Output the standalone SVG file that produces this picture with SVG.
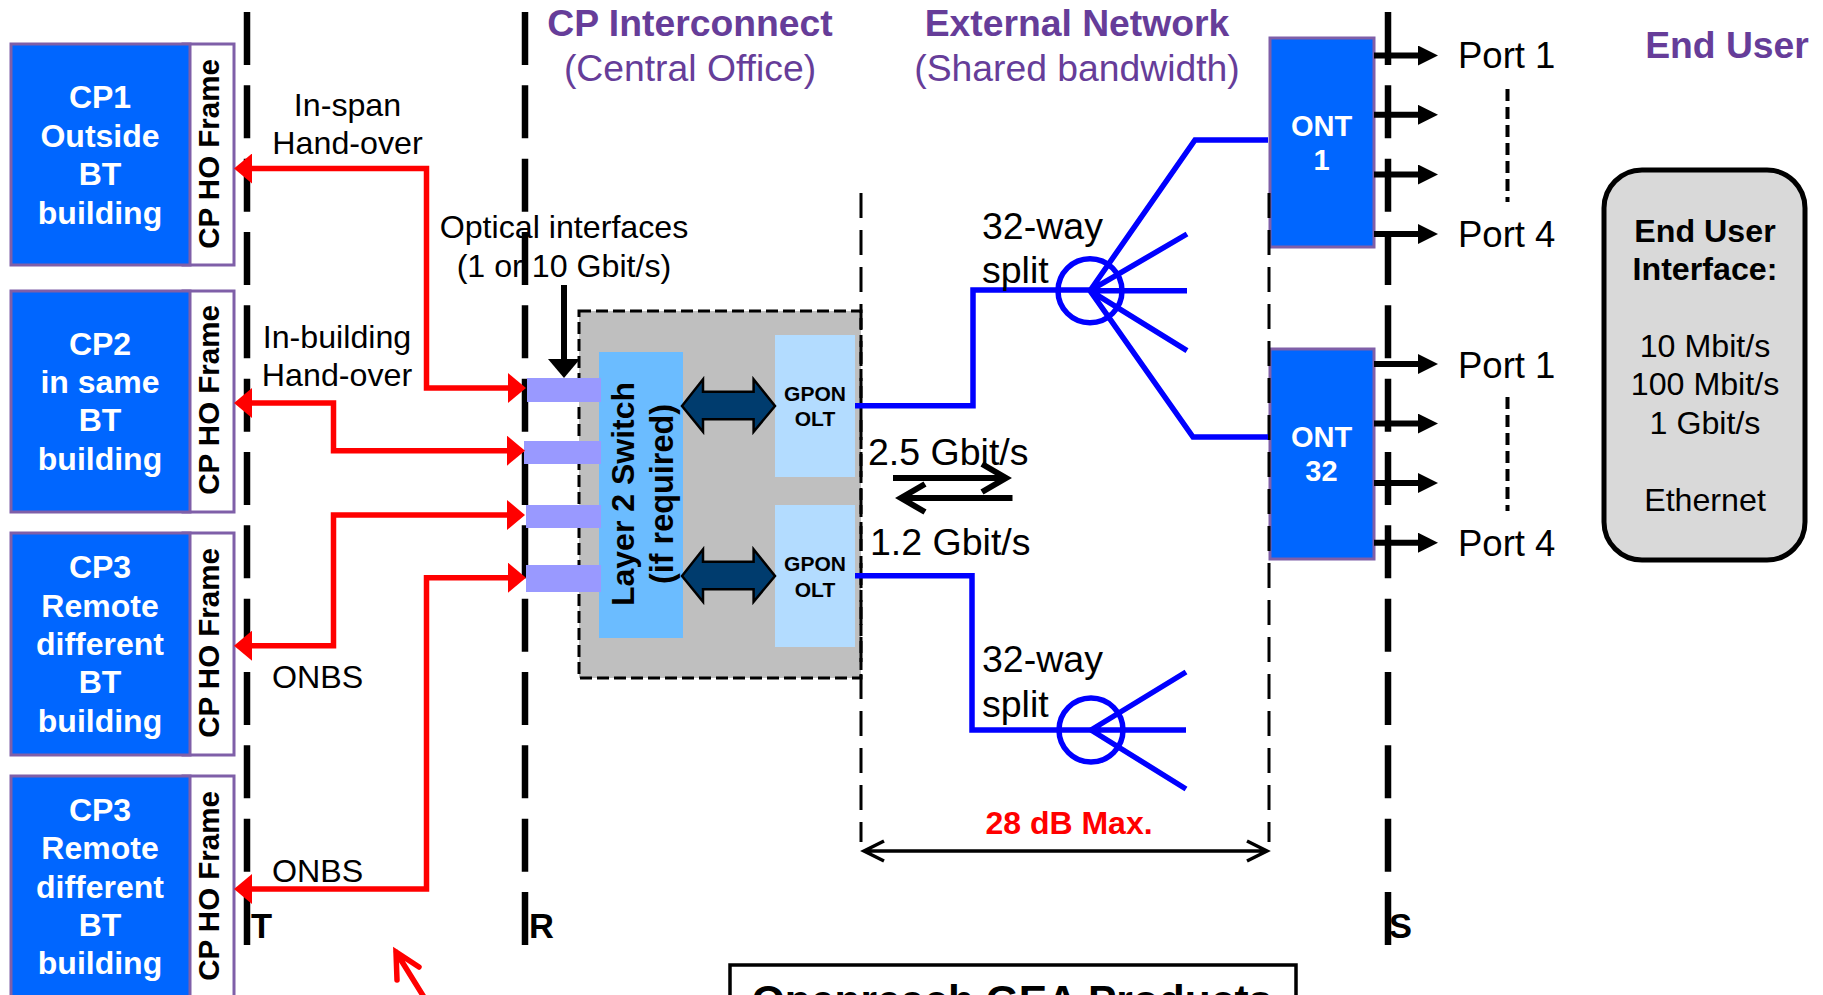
<svg xmlns="http://www.w3.org/2000/svg" width="1823" height="995" viewBox="0 0 1823 995">
<style>
text{font-family:"Liberation Sans",Arial,sans-serif;fill:#000}
.b{font-weight:bold}
.m{text-anchor:middle}
.w{fill:#fff;font-weight:bold;text-anchor:middle}
.cp{font-size:32px}
.fr{font-size:29.500px;font-weight:bold;text-anchor:middle}
.lb{font-size:32.200px}
.big{font-size:37.500px}
.port{font-size:36.500px}
.head{font-size:37.300px;fill:#663d99;text-anchor:middle}
.gp{font-size:21px;font-weight:bold;text-anchor:middle}
.blue{fill:#0066ff;stroke:#7f5fa8;stroke-width:3}
.frame{fill:#fff;stroke:#7f5fa8;stroke-width:3}
.bar{fill:#9999ff}
.ref{stroke:#000;stroke-width:6.500;stroke-dasharray:53 20.330;fill:none}
.thin{stroke:#000;stroke-width:3;stroke-dasharray:25 12;fill:none}
.red{stroke:#f00;stroke-width:5.500;fill:none}
.bl{stroke:#00f;stroke-width:5.500;fill:none}
.bk{stroke:#000;stroke-width:6;fill:none}
.dbl{fill:#003c6e;stroke:#000;stroke-width:2.500}
</style>
<defs>
<marker id="rh" markerUnits="userSpaceOnUse" markerWidth="18" markerHeight="30" viewBox="0 0 18 30" refX="0" refY="15" orient="auto-start-reverse"><path d="M0 0L18 15L0 30Z" fill="#f00"/></marker>
<marker id="ph" markerUnits="userSpaceOnUse" markerWidth="20" markerHeight="20" viewBox="0 0 20 20" refX="0" refY="10" orient="auto"><path d="M0 0L20 10L0 20Z" fill="#000"/></marker>
</defs>
<rect width="1823" height="995" fill="#fff"/>

<g id="cp1"><rect class="frame" x="183" y="44" width="51" height="221"/><rect class="blue" x="11" y="44" width="179" height="221"/>
<text class="w cp" x="100" y="108">CP1</text><text class="w cp" x="100" y="147">Outside</text><text class="w cp" x="100" y="185">BT</text><text class="w cp" x="100" y="224">building</text>
<text class="fr" transform="translate(219 154) rotate(-90)">CP HO Frame</text></g>
<g id="cp2"><rect class="frame" x="183" y="291" width="51" height="221"/><rect class="blue" x="11" y="291" width="179" height="221"/>
<text class="w cp" x="100" y="355">CP2</text><text class="w cp" x="100" y="393">in same</text><text class="w cp" x="100" y="431">BT</text><text class="w cp" x="100" y="470">building</text>
<text class="fr" transform="translate(219 400) rotate(-90)">CP HO Frame</text></g>
<g id="cp3a"><rect class="frame" x="183" y="533" width="51" height="222"/><rect class="blue" x="11" y="533" width="179" height="222"/>
<text class="w cp" x="100" y="578">CP3</text><text class="w cp" x="100" y="617">Remote</text><text class="w cp" x="100" y="655">different</text><text class="w cp" x="100" y="693">BT</text><text class="w cp" x="100" y="732">building</text>
<text class="fr" transform="translate(219 643) rotate(-90)">CP HO Frame</text></g>
<g id="cp3b"><rect class="frame" x="183" y="776" width="51" height="222"/><rect class="blue" x="11" y="776" width="179" height="222"/>
<text class="w cp" x="100" y="821">CP3</text><text class="w cp" x="100" y="859">Remote</text><text class="w cp" x="100" y="898">different</text><text class="w cp" x="100" y="936">BT</text><text class="w cp" x="100" y="974">building</text>
<text class="fr" transform="translate(219 886) rotate(-90)">CP HO Frame</text></g>

<g id="ref-lines">
<path class="ref" d="M247 12V945"/><path class="ref" d="M525 12V945"/><path class="ref" d="M1388 12V945"/>
<text class="b" x="251" y="938" font-size="34.500">T</text><text class="b" x="529" y="938" font-size="34.500">R</text><text class="b" x="1389" y="938" font-size="34.500">S</text>
</g>

<g id="headings">
<text class="head b" x="690" y="36">CP Interconnect</text><text class="head" x="690" y="81">(Central Office)</text>
<text class="head b" x="1077" y="36">External Network</text><text class="head" x="1077" y="81">(Shared bandwidth)</text>
<text class="head b" x="1727" y="58">End User</text>
</g>

<g id="co"><rect x="579" y="311" width="282" height="367" fill="#bfbfbf" stroke="#000" stroke-width="3" stroke-dasharray="12 5"/></g>
<g id="switch"><rect x="599" y="352" width="84" height="286" fill="#6bbcff"/>
<text class="b m" font-size="32" transform="translate(634 494) rotate(-90)">Layer 2 Switch</text>
<text class="b m" font-size="32.400" transform="translate(672.500 494) rotate(-90)">(if required)</text></g>
<g id="olt1"><rect x="775" y="335" width="80" height="142" fill="#b3dcff"/><text class="gp" x="815" y="401">GPON</text><text class="gp" x="815" y="426">OLT</text></g>
<g id="olt2"><rect x="775" y="505" width="80" height="142" fill="#b3dcff"/><text class="gp" x="815" y="571">GPON</text><text class="gp" x="815" y="597">OLT</text></g>
<g id="ports"><rect class="bar" x="527" y="378" width="74" height="24"/><rect class="bar" x="524" y="441" width="77" height="23"/><rect class="bar" x="526" y="505" width="75" height="23"/><rect class="bar" x="526" y="565" width="75" height="27"/></g>

<g id="ont1"><rect class="blue" x="1270" y="38" width="104" height="209"/><text class="w" font-size="29" x="1321.500" y="136">ONT</text><text class="w" font-size="29" x="1321.500" y="170">1</text></g>
<g id="ont32"><rect class="blue" x="1270" y="349" width="104" height="210"/><text class="w" font-size="29" x="1321.500" y="447">ONT</text><text class="w" font-size="29" x="1321.500" y="481">32</text></g>

<g id="span-lines"><path class="thin" d="M861 193V842"/><path class="thin" d="M1269 193V842"/></g>

<g id="connectors">
<path class="red" marker-start="url(#rh)" marker-end="url(#rh)" d="M252 168.500H426.500V388H508"/>
<path class="red" marker-start="url(#rh)" marker-end="url(#rh)" d="M252 403H333.500V450.700H507"/>
<path class="red" marker-start="url(#rh)" marker-end="url(#rh)" d="M252 645.700H333.500V515H507"/>
<path class="red" marker-start="url(#rh)" marker-end="url(#rh)" d="M252 889H426.500V577.700H508"/>
<path d="M396 952L427 1002M397 980L396 952L419 967" fill="none" stroke="#f00" stroke-width="5.500" stroke-linecap="round"/>
<path d="M564 285V360" stroke="#000" stroke-width="6" fill="none"/><path d="M548 359H580L564 378Z" fill="#000"/>
<path class="dbl" d="M682 406L703 379.300V391.700H753.600V379.300L775 406L753.600 431.700V419.300H703V431.700Z"/>
<path class="dbl" d="M682 576L703 549.300V561.700H753.600V549.300L775 576L753.600 601.700V589.300H703V601.700Z"/>
<path class="bl" d="M855 405.700H973V290H1090"/>
<circle class="bl" cx="1090" cy="290.700" r="32"/>
<path class="bl" d="M1090 290.700L1195 140H1268M1090 290.700L1187 234M1090 290.700H1187M1090 290.700L1187 350.700M1090 290.700L1193 437H1268"/>
<path class="bl" d="M855 575.700H972V730H1091"/>
<circle class="bl" cx="1091" cy="730" r="32"/>
<path class="bl" d="M1091 730L1186 672M1091 730H1186M1091 730L1186 789"/>
<path d="M893 478H1006M982 464L1006 478L982 492" fill="none" stroke="#000" stroke-width="6"/>
<path d="M1012.500 498H901M925 484L901 498L925 512" fill="none" stroke="#000" stroke-width="6"/>
<path d="M864 851H1267M884 841L864 851L884 861M1247 841L1267 851L1247 861" fill="none" stroke="#000" stroke-width="3.500"/>
<path class="bk" marker-end="url(#ph)" d="M1374 55.500H1418"/>
<path class="bk" marker-end="url(#ph)" d="M1374 114.800H1418"/>
<path class="bk" marker-end="url(#ph)" d="M1374 174.500H1418"/>
<path class="bk" marker-end="url(#ph)" d="M1374 234H1418"/>
<path class="bk" marker-end="url(#ph)" d="M1374 364H1418"/>
<path class="bk" marker-end="url(#ph)" d="M1374 423.600H1418"/>
<path class="bk" marker-end="url(#ph)" d="M1374 483H1418"/>
<path class="bk" marker-end="url(#ph)" d="M1374 542.700H1418"/>
<path d="M1507.500 89V202M1507.500 397V511" stroke="#000" stroke-width="4" stroke-dasharray="12 6" fill="none"/>
</g>

<g id="labels">
<text class="lb m" x="347.500" y="116">In-span</text><text class="lb m" x="347.500" y="154">Hand-over</text>
<text class="lb m" x="337" y="348">In-building</text><text class="lb m" x="337" y="386">Hand-over</text>
<text class="lb m" x="564" y="238">Optical interfaces</text><text class="lb m" x="564" y="277">(1 or 10 Gbit/s)</text>
<text class="lb" x="272" y="688">ONBS</text><text class="lb" x="272" y="882">ONBS</text>
<text class="big" x="868" y="465">2.5 Gbit/s</text><text class="big" x="870" y="555">1.2 Gbit/s</text>
<text class="big" x="982" y="239">32-way</text><text class="big" x="982" y="283">split</text>
<text class="big" x="982" y="672">32-way</text><text class="big" x="982" y="717">split</text>
<text class="b m" x="1069" y="834" font-size="32" style="fill:#f00">28 dB Max.</text>
<text class="port" x="1458" y="68">Port 1</text><text class="port" x="1458" y="247">Port 4</text><text class="port" x="1458" y="378">Port 1</text><text class="port" x="1458" y="556">Port 4</text>
</g>

<g id="end-user"><rect x="1604" y="170" width="201" height="390" rx="38" fill="#d9d9d9" stroke="#000" stroke-width="5"/>
<text class="b m lb" x="1705" y="242">End User</text><text class="b m lb" x="1705" y="280">Interface:</text>
<text class="m lb" x="1705" y="357">10 Mbit/s</text><text class="m lb" x="1705" y="395">100 Mbit/s</text><text class="m lb" x="1705" y="433.500">1 Gbit/s</text><text class="m lb" x="1705" y="511">Ethernet</text></g>

<g id="products"><rect x="730" y="965" width="566" height="60" fill="#fff" stroke="#000" stroke-width="3.500"/>
<text class="b m" x="1012" y="1015" font-size="42.500">Openreach GEA Products</text></g>
</svg>
